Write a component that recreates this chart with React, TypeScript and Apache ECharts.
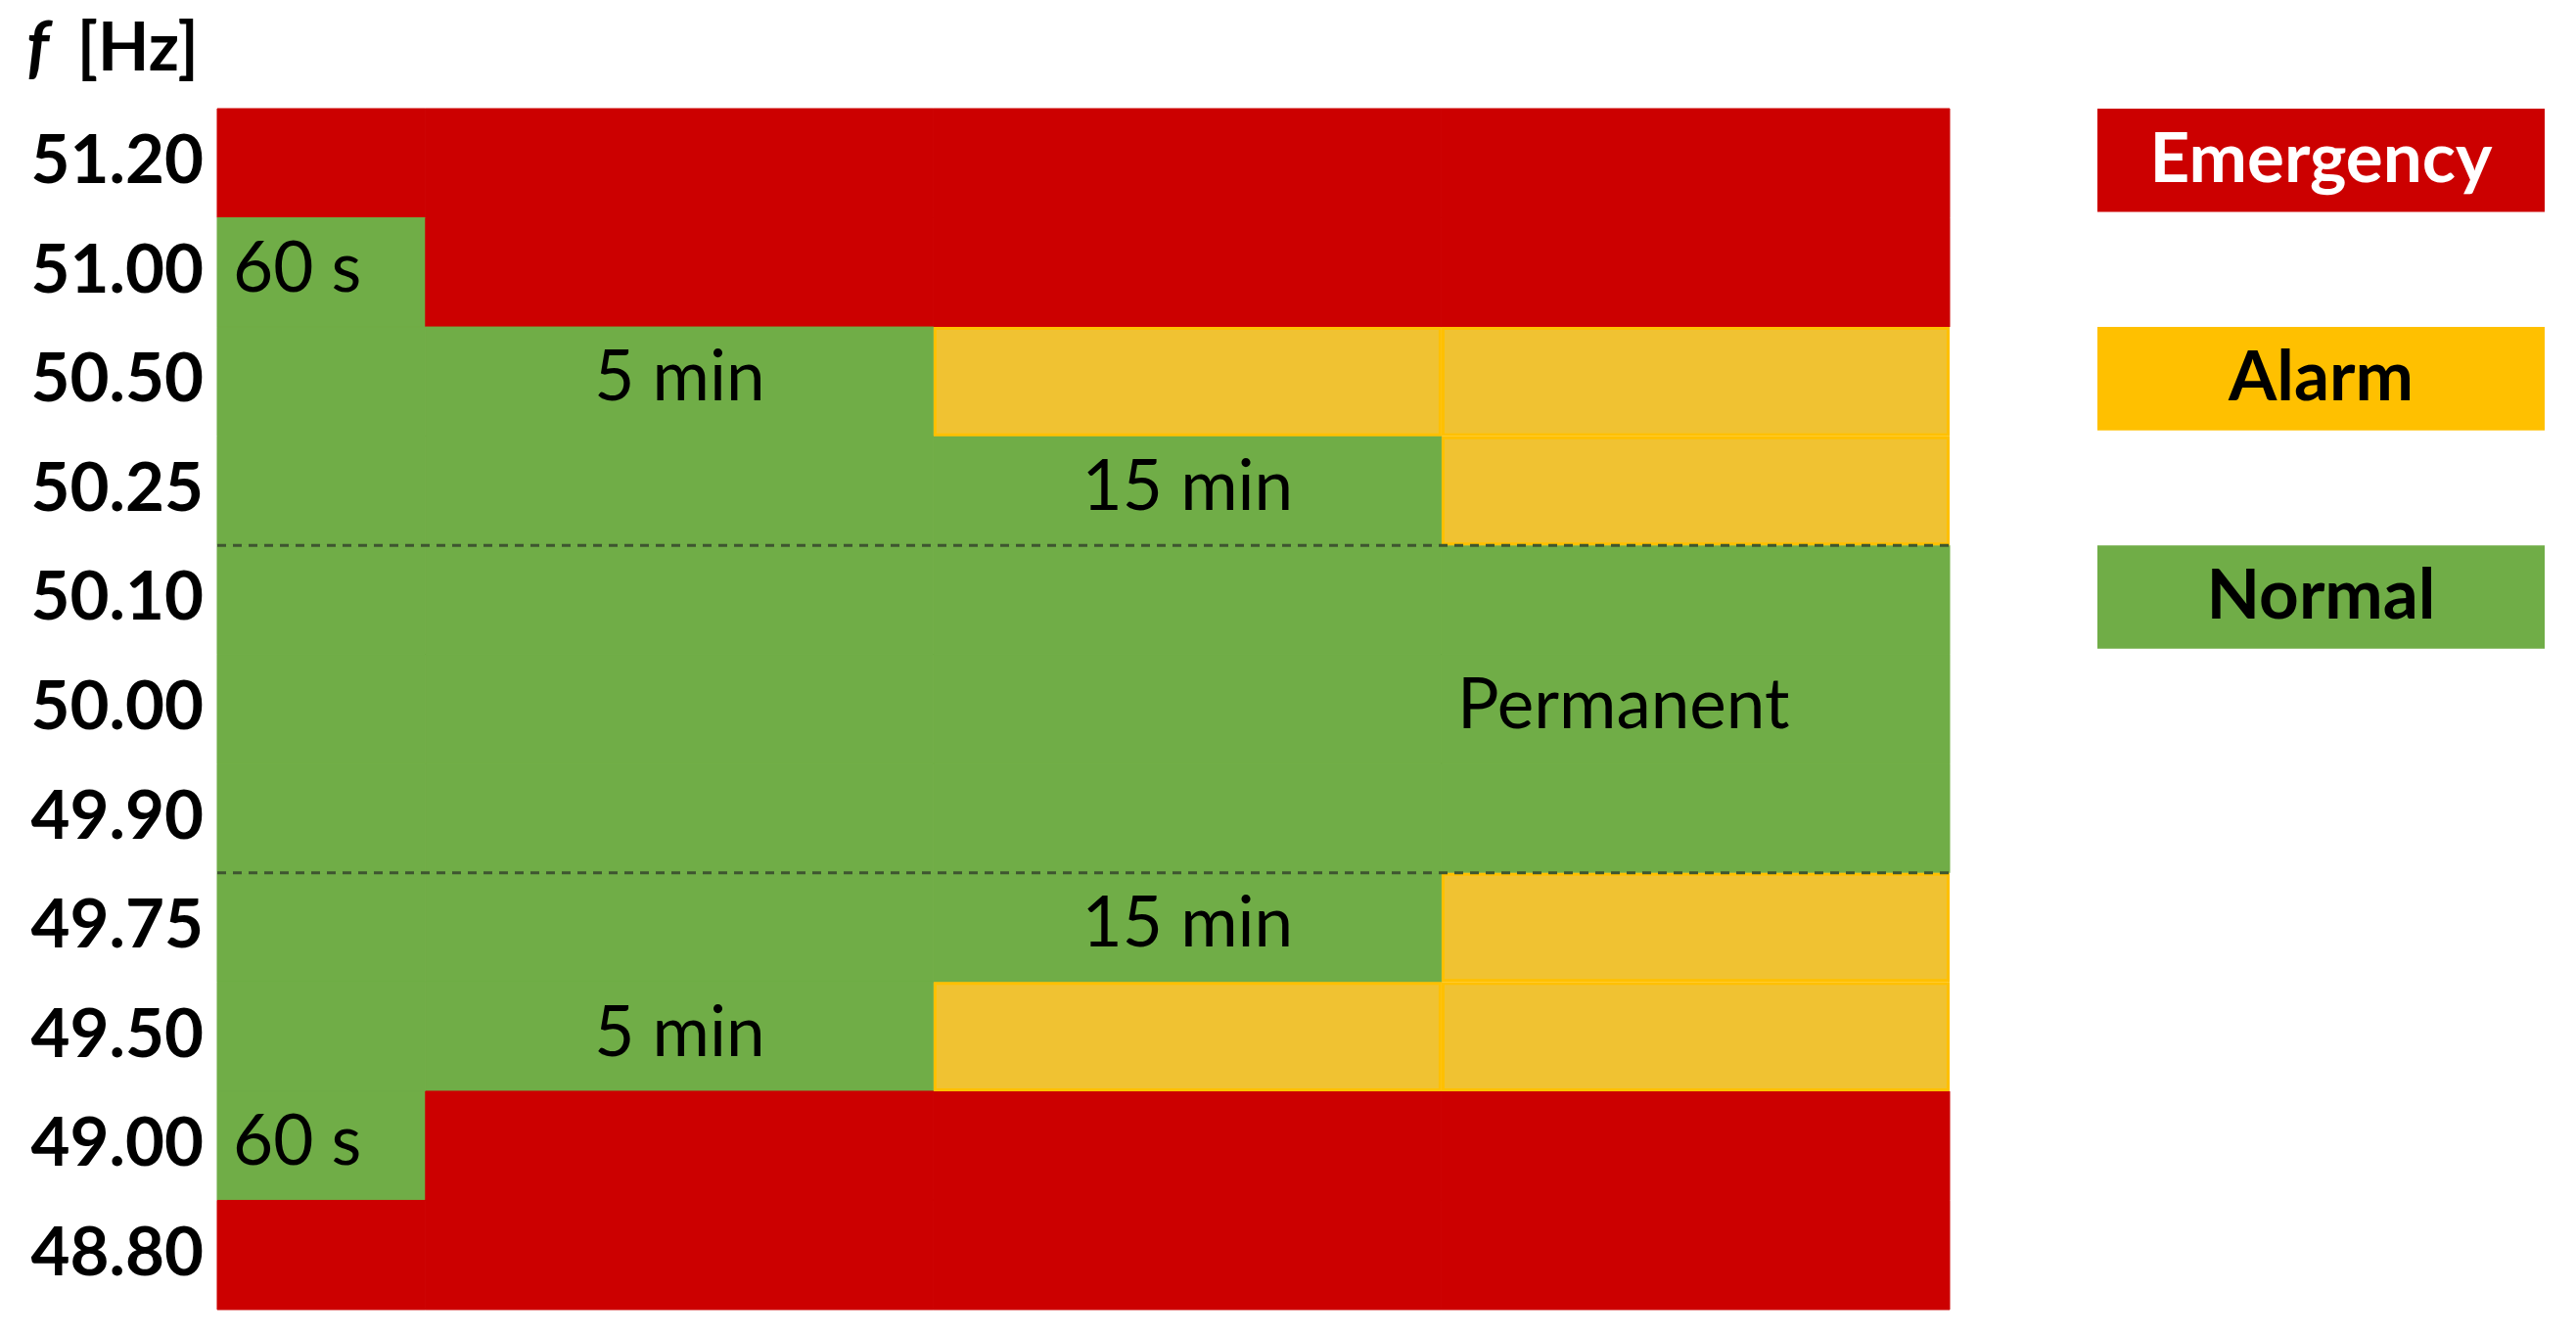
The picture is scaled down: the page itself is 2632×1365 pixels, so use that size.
import React, { useEffect, useRef } from "react";
import * as echarts from "echarts";

// Frequency bands (top to bottom)
const categories = ["51.20", "51.00", "50.50", "50.25", "50.10", "50.00", "49.90", "49.75", "49.50", "49.00", "48.80"];
// Duration columns and their relative widths
const columnNames = ["60 s", "5 min", "15 min", "Permanent"];
const columnWidths = [0.41, 1, 1, 1];
// Status per band, one letter per column: E = Emergency, A = Alarm, N = Normal
const rowStatus = ["EEEE", "NEEE", "NNAA", "NNNA", "NNNN", "NNNN", "NNNN", "NNNA", "NNAA", "NEEE", "EEEE"];
// Duration labels written into cells
const labelRows = ["51.00", "50.50", "50.25", "50.00", "49.75", "49.50", "49.00"];
const labelCols = [0, 1, 2, 3, 2, 1, 0];
const labelAlign = ["left", "center", "center", "left", "center", "center", "left"];
// Dashed separators drawn below these bands
const dashedBelow = ["50.25", "49.90"];
// Legend
const legendNames = ["Emergency", "Alarm", "Normal"];
const legendRows = ["51.20", "50.50", "50.10"];
const legendColors = ["#CC0000", "#FFC000", "#70AD47"];
const legendTextColors = ["#FFFFFF", "#000000", "#000000"];

const statusFill: Record<string, string> = { E: "#CC0000", A: "#F0C232", N: "#70AD47" };
const statusStroke: Record<string, string> = { E: "#CC0000", A: "#FFC000", N: "#70AD47" };

const W = 2632;
const H = 1365;
const GRID_LEFT = 222;
const GRID_RIGHT = 640;
const GRID_TOP = 111;
const GRID_BOTTOM = 27;

export default function App() {
  const ref = useRef<HTMLDivElement>(null);

  useEffect(() => {
    if (!ref.current) return;
    const chart = echarts.init(ref.current, undefined, { renderer: "svg" });

    const colStarts: number[] = [];
    let acc = 0;
    columnWidths.forEach((w) => {
      colStarts.push(acc);
      acc += w;
    });
    const total = acc;

    type Cell = { status: string; label: string; align: string };
    const cells: Cell[] = [];
    const cellData: number[][] = [];
    rowStatus.forEach((s, r) => {
      for (let c = 0; c < columnWidths.length; c++) {
        const li = labelRows.findIndex((lr, k) => lr === categories[r] && labelCols[k] === c);
        cells.push({
          status: s[c],
          label: li >= 0 ? columnNames[labelCols[li]] : "",
          align: li >= 0 ? labelAlign[li] : "center",
        });
        cellData.push([colStarts[c], colStarts[c] + columnWidths[c], r]);
      }
    });

    // draw alarm cells last so their borders stay visible
    const order = cellData.map((_, i) => i).sort((a, b) => {
      const pa = cells[a].status === "A" ? 1 : 0;
      const pb = cells[b].status === "A" ? 1 : 0;
      return pa - pb;
    });
    const orderedData = order.map((i) => cellData[i]);
    const orderedCells = order.map((i) => cells[i]);

    const dashedData = dashedBelow.map((c) => [0, total, categories.indexOf(c)]);

    const rowH = (H - GRID_TOP - GRID_BOTTOM) / categories.length;
    const legendX = 2143;
    const legendW = 457;
    const legendGraphics = legendNames.map((name, i) => {
      const r = categories.indexOf(legendRows[i]);
      const y = GRID_TOP + r * rowH;
      return {
        type: "group",
        children: [
          {
            type: "rect",
            shape: { x: legendX, y: y, width: legendW, height: rowH - 6 },
            style: { fill: legendColors[i] },
          },
          {
            type: "text",
            x: legendX + legendW / 2,
            y: y + (rowH - 6) / 2 - 5,
            style: {
              text: name,
              fill: legendTextColors[i],
              fontFamily: "Lato",
              fontWeight: "bold",
              fontSize: 71,
              align: "center",
              verticalAlign: "middle",
            },
          },
        ],
      };
    });

    chart.setOption({
      animation: false,
      backgroundColor: "#FFFFFF",
      title: {
        text: "{i|f} [Hz]",
        left: 22,
        top: 5,
        textStyle: {
          fontFamily: "Lato",
          fontWeight: "bold",
          fontSize: 68,
          color: "#000",
          rich: {
            i: {
              fontFamily: "Lato",
              fontStyle: "italic",
              fontWeight: "bold",
              fontSize: 70,
              color: "#000",
              padding: [0, 12, 0, 0],
            },
          },
        },
      },
      grid: { left: GRID_LEFT, right: GRID_RIGHT, top: GRID_TOP, bottom: GRID_BOTTOM, containLabel: false },
      xAxis: { type: "value", min: 0, max: total, show: false },
      yAxis: {
        type: "category",
        inverse: true,
        data: categories,
        axisLine: { show: false },
        axisTick: { show: false },
        splitLine: { show: false },
        axisLabel: {
          color: "#000",
          margin: 14,
          formatter: (v: string) => "{a|" + v + "}",
          rich: {
            a: {
              fontFamily: "Lato",
              fontWeight: "bold",
              fontSize: 69,
              color: "#000",
              padding: [0, 0, 12, 0],
            },
          },
        },
      },
      graphic: legendGraphics,
      series: [
        {
          type: "custom",
          name: "cells",
          data: orderedData,
          encode: { x: [0, 1], y: 2 },
          renderItem: (params: any, api: any) => {
            const cell = orderedCells[params.dataIndex];
            const row = api.value(2);
            const p0 = api.coord([api.value(0), row]);
            const p1 = api.coord([api.value(1), row]);
            const h = api.size([0, 1])[1];
            const x = p0[0];
            const y = p0[1] - h / 2;
            const w = p1[0] - p0[0];
            const isAlarm = cell.status === "A";
            const children: any[] = [
              {
                type: "rect",
                shape: isAlarm ? { x: x + 1.5, y: y + 1.5, width: w - 3, height: h - 3 } : { x, y, width: w, height: h },
                style: {
                  fill: statusFill[cell.status],
                  stroke: statusStroke[cell.status],
                  lineWidth: isAlarm ? 3 : 1,
                },
              },
            ];
            if (cell.label) {
              children.push({
                type: "text",
                x: cell.align === "left" ? x + 16 : x + w / 2,
                y: p0[1] - 8,
                style: {
                  text: cell.label,
                  fill: "#000",
                  fontFamily: "Lato",
                  fontSize: 71,
                  align: cell.align,
                  verticalAlign: "middle",
                },
              });
            }
            return { type: "group", children };
          },
        },
        {
          type: "custom",
          name: "separators",
          data: dashedData,
          encode: { x: [0, 1], y: 2 },
          renderItem: (params: any, api: any) => {
            const row = api.value(2);
            const pL = api.coord([api.value(0), row]);
            const pR = api.coord([api.value(1), row]);
            const h = api.size([0, 1])[1];
            const y = pL[1] + h / 2;
            return {
              type: "line",
              shape: { x1: pL[0], y1: y, x2: pR[0], y2: y },
              style: { stroke: "#3E5530", lineWidth: 3, lineDash: [9, 7] },
            };
          },
        },
      ],
    });

    return () => chart.dispose();
  }, []);

  return <div ref={ref} style={{ position: "fixed", left: 0, top: 0, width: W, height: H }} />;
}
